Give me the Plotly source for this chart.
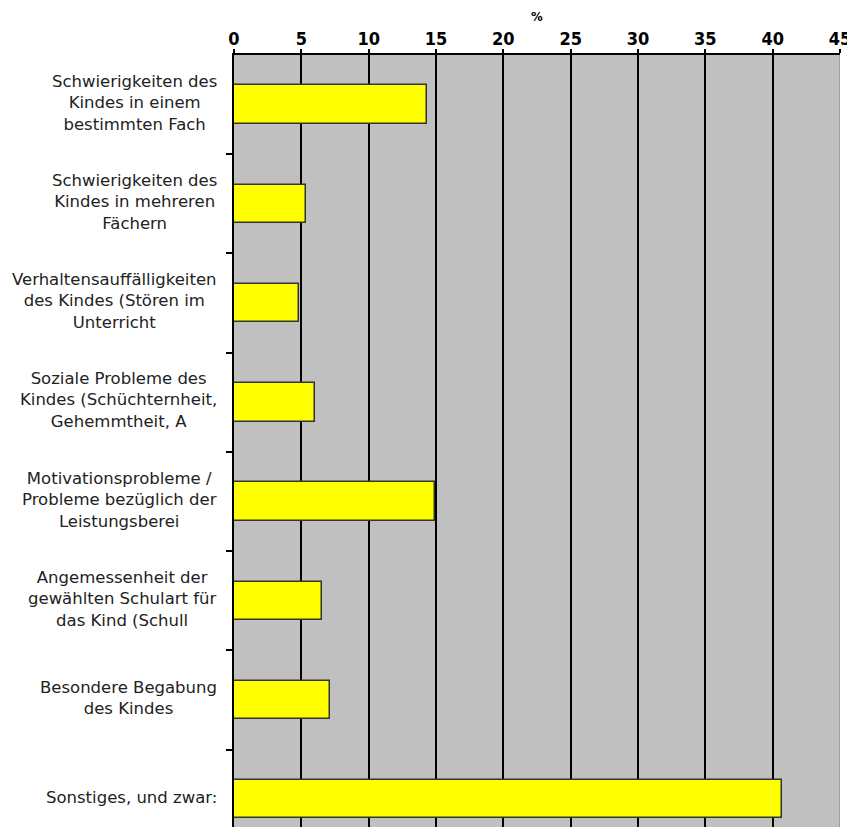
import plotly.graph_objects as go

categories = [
    "Schwierigkeiten des<br>Kindes in einem<br>bestimmten Fach",
    "Schwierigkeiten des<br>Kindes in mehreren<br>Fächern",
    "Verhaltensauffälligkeiten<br>des Kindes (Stören im<br>Unterricht",
    "Soziale Probleme des<br>Kindes (Schüchternheit,<br>Gehemmtheit, A",
    "Motivationsprobleme /<br>Probleme bezüglich der<br>Leistungsberei",
    "Angemessenheit der<br>gewählten Schulart für<br>das Kind (Schull",
    "Besondere Begabung<br>des Kindes",
    "Sonstiges, und zwar:",
]
values = [14.3, 5.35, 4.85, 6.0, 14.9, 6.5, 7.1, 40.7]
x_ticks = [0, 5, 10, 15, 20, 25, 30, 35, 40, 45]

positions = list(range(len(categories)))

fig = go.Figure()
fig.add_trace(go.Bar(
    x=values,
    y=positions,
    orientation="h",
    width=0.387,
    marker=dict(color="#FFFF00", line=dict(color="#333333", width=1.5)),
    hoverinfo="x",
))

for pos, label in zip(positions, categories):
    fig.add_annotation(
        x=0, xref="paper", y=pos, yref="y",
        text=label, showarrow=False,
        xanchor="right", yanchor="middle", align="center",
        xshift=-15, yshift=2,
        font=dict(family="DejaVu Sans, sans-serif", size=16.5, color="#222222"),
    )

fig.add_annotation(
    x=22.5, xref="x", y=1, yref="paper", text="%", showarrow=False,
    xanchor="center", yanchor="bottom", yshift=29,
    font=dict(family="DejaVu Sans Condensed", size=13, color="#000000", weight="bold"),
)

fig.add_shape(type="line", x0=45, x1=45, y0=0, y1=1, xref="x", yref="paper",
              line=dict(color="#A0A0A0", width=2), layer="above")

fig.update_layout(
    width=847, height=819,
    margin=dict(l=226, r=15, t=47, b=0),
    paper_bgcolor="#FFFFFF",
    plot_bgcolor="#C0C0C0",
    showlegend=False,
    bargap=0,
    xaxis=dict(
        side="top", range=[0, 45], tickvals=x_ticks,
        ticktext=[str(t) for t in x_ticks],
        showgrid=True, gridcolor="#000000", gridwidth=1.5,
        showline=True, linecolor="#000000", linewidth=2,
        ticks="outside", ticklen=4, tickcolor="#000000", tickwidth=1.5,
        ticklabelstandoff=-3,
        tickfont=dict(family="DejaVu Sans Condensed", size=18, color="#000000", weight="bold"),
        zeroline=False, fixedrange=True,
    ),
    yaxis=dict(
        range=[7.28, -0.5],
        tickvals=[p + 0.5 for p in positions[:-1]],
        showticklabels=False,
        showgrid=False, zeroline=False,
        showline=True, linecolor="#000000", linewidth=2,
        ticks="outside", ticklen=6, tickcolor="#000000", tickwidth=1.5,
        fixedrange=True,
    ),
)

fig.write_html("out.html")
